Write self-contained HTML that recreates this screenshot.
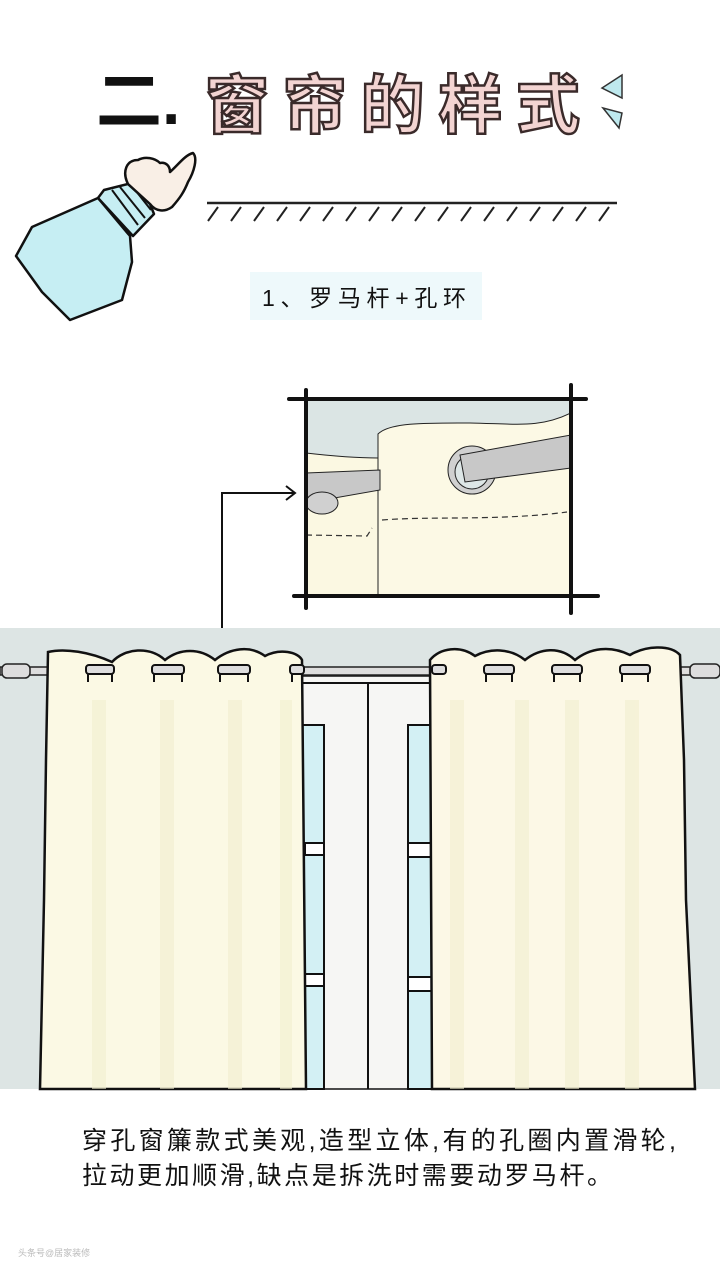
<!DOCTYPE html>
<html><head><meta charset="utf-8"><style>
html,body{margin:0;padding:0;background:#fff;}
svg{display:block;}
text{font-family:"Liberation Sans","Noto Sans CJK SC","WenQuanYi Zen Hei",sans-serif;}
</style></head><body>
<svg width="720" height="1278" viewBox="0 0 720 1278" xmlns="http://www.w3.org/2000/svg">
<rect width="720" height="1278" fill="#fff"/>
<!-- Title -->
<text x="96" y="124" font-size="66" font-weight="bold" fill="#111">二.</text>
<text x="205" y="128" font-size="64" font-weight="bold" fill="#f3d4d2" stroke="#3a2a2a" stroke-width="2.5" textLength="375">窗帘的样式</text>
<polygon points="622,75 622,98 602,88" fill="#bfe9ee" stroke="#333" stroke-width="1.5"/>
<polygon points="603,108 622,113 619,128" fill="#bfe9ee" stroke="#333" stroke-width="1.5"/>
<!-- hatched line -->
<line x1="207" y1="203" x2="617" y2="203" stroke="#222" stroke-width="2.5"/>
<g stroke="#222" stroke-width="2">
<path d="M218 207 l-10 14 M241 207 l-10 14 M264 207 l-10 14 M287 207 l-10 14 M310 207 l-10 14 M333 207 l-10 14 M356 207 l-10 14 M379 207 l-10 14 M402 207 l-10 14 M425 207 l-10 14 M448 207 l-10 14 M471 207 l-10 14 M494 207 l-10 14 M517 207 l-10 14 M540 207 l-10 14 M563 207 l-10 14 M586 207 l-10 14 M609 207 l-10 14"/>
</g>
<!-- arm -->
<path d="M16 256 L32 227 L98 198 L130 236 L132 262 L122 300 L70 320 L42 292 Z" fill="#c6eef3" stroke="#111" stroke-width="2.5" stroke-linejoin="round"/>
<path d="M98 198 L104 190 L128 184 L150 204 L154 214 L133 236 Z" fill="#c6eef3" stroke="#111" stroke-width="2.5" stroke-linejoin="round"/>
<path d="M112 190 L138 225 M120 187 L145 218 M132 186 L151 210" stroke="#111" stroke-width="2"/>
<path d="M128 184 C122 172 126 160 138 160 C145 156 155 158 160 163 C165 162 170 165 170 172 C178 165 185 155 193 153 C198 158 194 172 188 182 C184 192 180 198 172 207 C165 212 156 212 150 204 Z" fill="#f9efe6" stroke="#111" stroke-width="2.5" stroke-linejoin="round"/>
<!-- subtitle -->
<rect x="250" y="272" width="232" height="48" fill="#eef9fb"/>
<text x="262" y="306" font-size="23" fill="#111" textLength="204">1、罗马杆+孔环</text>
<!-- Inset -->
<defs><clipPath id="ic"><rect x="306" y="400" width="265" height="196"/></clipPath></defs>
<g clip-path="url(#ic)">
<rect x="306" y="400" width="265" height="196" fill="#dbe5e4"/>
<path d="M306 453 C340 457 360 458 378 458 L378 596 L306 596 Z" fill="#fbf8e2" stroke="#222" stroke-width="1"/>
<path d="M378 434 C390 422 430 423 470 423 C520 424 540 428 571 413 L571 596 L378 596 Z" fill="#fcf9e5" stroke="#222" stroke-width="1"/>
<path d="M306 473 L380 470 L380 490 L306 503 Z" fill="#c8c8c8" stroke="#222" stroke-width="1"/>
<ellipse cx="322" cy="503" rx="16" ry="11" fill="#d0d0d0" stroke="#222" stroke-width="1"/>
<ellipse cx="472" cy="470" rx="24" ry="24" fill="#d0d0d0" stroke="#222" stroke-width="1"/>
<ellipse cx="472" cy="472" rx="17" ry="17" fill="#dde6e6" stroke="#222" stroke-width="1"/>
<path d="M460 455 L571 435 L571 468 L465 482 Z" fill="#c8c8c8" stroke="#222" stroke-width="1"/>
<path d="M306 535 L367 536 L372 528 M382 520 C430 516 500 521 567 512" fill="none" stroke="#333" stroke-width="1.2" stroke-dasharray="6,4"/>
</g>
<g stroke="#111" stroke-width="4" stroke-linecap="round">
<line x1="289" y1="399" x2="586" y2="399"/>
<line x1="294" y1="596" x2="598" y2="596"/>
<line x1="306" y1="390" x2="306" y2="608"/>
<line x1="571" y1="385" x2="571" y2="613"/>
</g>
<!-- connector -->
<polyline points="222,638 222,493 294,493" fill="none" stroke="#111" stroke-width="2"/>
<polyline points="286,486 295,493 286,500" fill="none" stroke="#111" stroke-width="2"/>
<!-- wall -->
<rect x="0" y="628" width="720" height="461" fill="#dde5e4"/>
<!-- window -->
<rect x="300" y="676" width="140" height="413" fill="#f6f6f4" stroke="#111" stroke-width="1.5"/>
<line x1="300" y1="683" x2="440" y2="683" stroke="#111" stroke-width="2"/>
<line x1="368" y1="684" x2="368" y2="1089" stroke="#111" stroke-width="2"/>
<rect x="300" y="725" width="24" height="364" fill="#d3f0f4" stroke="#111" stroke-width="2"/>
<rect x="408" y="725" width="32" height="364" fill="#d3f0f4" stroke="#111" stroke-width="2"/>
<g fill="#fff" stroke="#111" stroke-width="2">
<rect x="305" y="843" width="19" height="12"/><rect x="305" y="974" width="19" height="12"/>
<rect x="408" y="843" width="26" height="14"/><rect x="408" y="977" width="26" height="14"/>
</g>
<!-- rod -->
<rect x="0" y="667" width="720" height="8" fill="#ddd" stroke="#222" stroke-width="1.5"/>
<rect x="2" y="664" width="28" height="14" rx="5" fill="#ddd" stroke="#222" stroke-width="1.5"/>
<rect x="690" y="664" width="30" height="14" rx="5" fill="#ddd" stroke="#222" stroke-width="1.5"/>
<!-- left curtain -->
<path d="M48 652 C65 648 90 652 112 662 C125 648 150 646 165 660 C180 648 200 648 215 660 C230 648 250 645 265 656 C280 648 298 652 302 660 L306 1089 L40 1089 L44 900 L46 760 Z" fill="#fbf9e4" stroke="#111" stroke-width="2.5"/>
<!-- right curtain -->
<path d="M430 660 C440 648 460 645 475 656 C490 648 510 648 525 660 C540 648 560 646 575 660 C590 648 610 645 630 655 C645 646 670 644 680 655 L684 760 L686 900 L695 1089 L432 1089 Z" fill="#fcf8e6" stroke="#111" stroke-width="2.5"/>
<g fill="#f2efcf" opacity="0.6">
<rect x="92" y="700" width="14" height="389"/><rect x="160" y="700" width="14" height="389"/><rect x="228" y="700" width="14" height="389"/><rect x="280" y="700" width="12" height="389"/>
<rect x="450" y="700" width="14" height="389"/><rect x="515" y="700" width="14" height="389"/><rect x="565" y="700" width="14" height="389"/><rect x="625" y="700" width="14" height="389"/>
</g>
<!-- grommets -->
<g fill="#ddd" stroke="#111" stroke-width="2">
<rect x="86" y="665" width="28" height="9" rx="3"/><rect x="152" y="665" width="32" height="9" rx="3"/><rect x="218" y="665" width="32" height="9" rx="3"/><rect x="290" y="665" width="14" height="9" rx="3"/>
<rect x="432" y="665" width="14" height="9" rx="3"/><rect x="484" y="665" width="30" height="9" rx="3"/><rect x="552" y="665" width="30" height="9" rx="3"/><rect x="620" y="665" width="30" height="9" rx="3"/>
</g>
<g fill="none" stroke="#111" stroke-width="2">
<path d="M88 674 v8 M112 674 v8 M154 674 v8 M182 674 v8 M220 674 v8 M248 674 v8 M292 674 v8 M486 674 v8 M512 674 v8 M554 674 v8 M580 674 v8 M622 674 v8 M648 674 v8"/>
</g>
<!-- bottom text -->
<text x="82" y="1149" font-size="25" fill="#111" textLength="594">穿孔窗簾款式美观,造型立体,有的孔圈内置滑轮,</text>
<text x="82" y="1184" font-size="25" fill="#111" textLength="530">拉动更加顺滑,缺点是拆洗时需要动罗马杆。</text>
<text x="18" y="1256" font-size="9" fill="#bbb">头条号@居家装修</text>
</svg>
</body></html>
